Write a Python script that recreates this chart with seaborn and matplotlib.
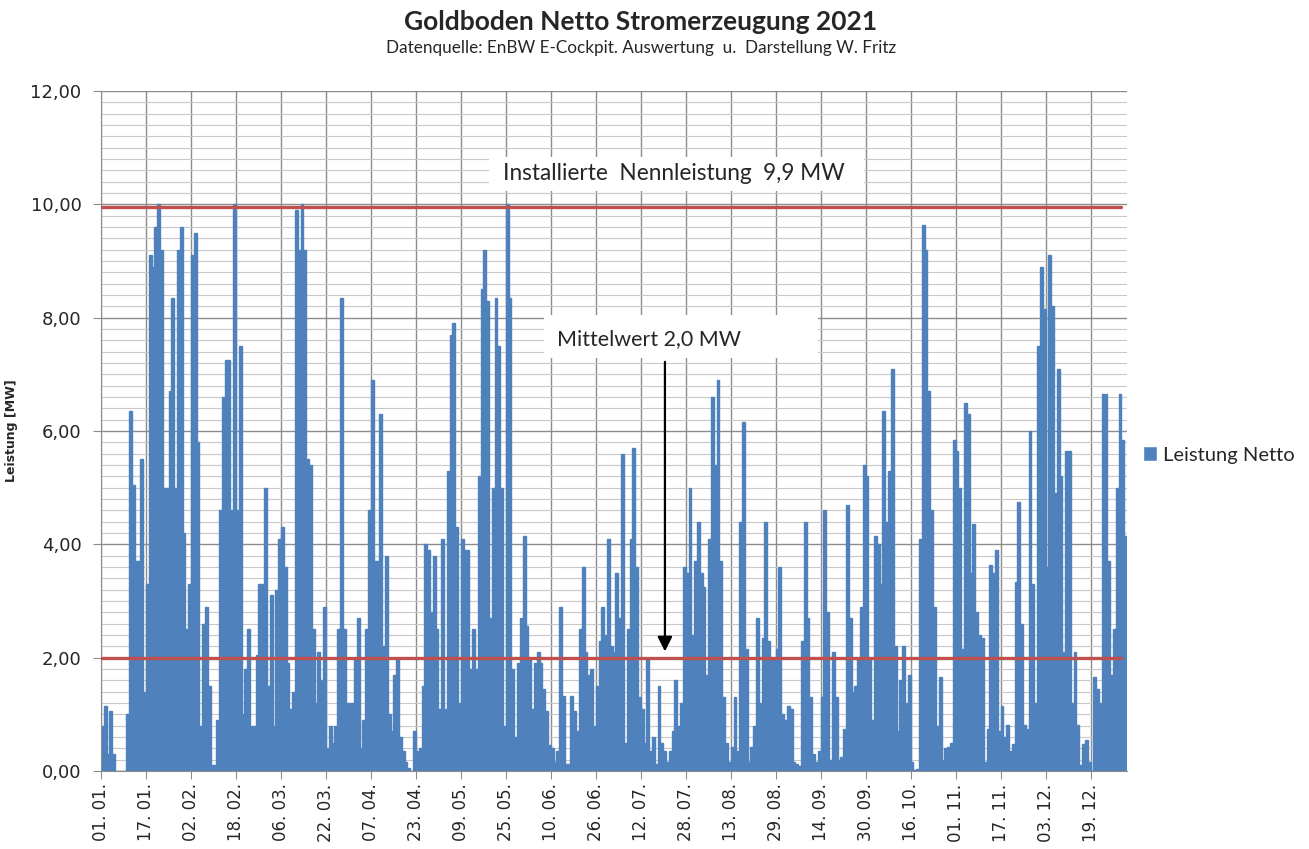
import numpy as np
import pandas as pd
import seaborn as sns
import matplotlib.pyplot as plt
from matplotlib.patches import Rectangle, Patch
from matplotlib.ticker import MultipleLocator

# Tageshöchstwerte Leistung Netto [MW], 01.01. - 31.12.2021
leistung = [
    0.8, 1.15, 0.3, 1.05, 0.3, 0, 0, 0, 0, 1.0, 6.35, 5.05, 3.7, 3.7, 5.5, 1.4,
    3.3, 9.1, 8.9, 9.6, 10.0, 9.2, 5.0, 5.0, 6.7, 8.35, 5.0, 9.2, 9.6, 4.2, 2.5, 3.3,
    9.1, 9.5, 5.8, 0.8, 2.6, 2.9, 1.5, 0.1, 0.1, 0.9, 4.6, 6.6, 7.25, 7.25, 4.6, 10.0,
    4.6, 7.5, 1.0, 1.8, 2.5, 0.8, 0.8, 2.05, 3.3, 3.3, 5.0, 1.5, 3.1, 0.8, 3.2, 4.1,
    4.3, 3.6, 1.9, 1.1, 1.4, 9.9, 9.2, 10.0, 9.2, 5.5, 5.4, 2.5, 1.2, 2.1, 1.6, 2.9,
    0.4, 0.8, 0.5, 0.8, 2.5, 8.35, 2.5, 1.2, 1.2, 1.2, 2.0, 2.7, 0.4, 0.9, 2.5, 4.6,
    6.9, 3.7, 3.7, 6.3, 2.2, 3.8, 1.0, 0.7, 1.7, 2.0, 0.6, 0.35, 0.15, 0.05, 0.0, 0.7,
    0.35, 0.4, 1.5, 4.0, 3.9, 2.8, 3.8, 2.5, 1.1, 4.1, 1.1, 5.3, 7.7, 7.9, 4.3, 1.2,
    4.1, 3.9, 3.9, 1.8, 2.5, 1.8, 5.2, 8.5, 9.2, 8.3, 2.7, 5.0, 8.35, 7.5, 5.0, 0.8,
    10.0, 8.35, 1.8, 0.6, 1.9, 2.7, 4.15, 2.55, 2.0, 1.1, 1.9, 2.1, 1.9, 1.45, 1.06, 0.45,
    0.4, 0.16, 0.35, 2.9, 1.33, 0.12, 0.12, 1.33, 1.06, 0.7, 2.5, 3.6, 2.1, 1.7, 1.8, 0.8,
    1.5, 2.3, 2.9, 2.4, 4.1, 2.2, 2.1, 3.5, 2.7, 5.6, 0.5, 2.5, 4.1, 5.7, 3.6, 1.3,
    1.1, 0.5, 2.0, 0.35, 0.6, 0.12, 1.5, 0.5, 0.35, 0.16, 0.35, 0.7, 1.6, 0.8, 1.2, 3.6,
    3.5, 5.0, 2.4, 3.7, 4.4, 3.5, 3.25, 1.7, 4.1, 6.6, 5.4, 6.9, 3.7, 1.3, 0.5, 0.16,
    0.43, 1.3, 0.35, 4.4, 6.15, 2.15, 0.16, 0.43, 0.8, 2.7, 1.2, 2.35, 4.4, 2.3, 2.0, 2.0,
    2.15, 3.6, 1.0, 0.9, 1.15, 1.1, 0.16, 0.12, 0.08, 2.3, 4.4, 2.7, 1.3, 0.3, 0.16, 0.35,
    1.3, 4.6, 2.8, 0.2, 2.1, 1.3, 0.2, 0.24, 0.74, 4.7, 2.7, 1.4, 1.5, 2.0, 2.9, 5.4,
    5.2, 2.0, 0.9, 4.15, 4.0, 3.3, 6.35, 4.4, 5.3, 7.1, 2.2, 0.7, 1.6, 2.2, 1.2, 1.7,
    0.16, 0.02, 0.04, 4.1, 9.64, 9.2, 6.7, 4.6, 2.9, 0.8, 1.65, 0.2, 0.4, 0.43, 0.5, 5.84,
    5.64, 5.0, 2.15, 6.5, 6.3, 3.5, 4.35, 2.8, 2.4, 2.35, 0.16, 0.74, 3.64, 3.5, 3.9, 0.7,
    1.14, 0.6, 0.82, 0.35, 0.47, 3.33, 4.74, 2.6, 0.82, 0.74, 6.0, 3.3, 1.2, 7.5, 8.9, 8.15,
    3.6, 9.1, 8.2, 4.9, 7.1, 5.2, 2.1, 5.64, 5.64, 1.2, 2.1, 0.82, 0.1, 0.47, 0.55, 0.16,
    0.0, 1.65, 1.45, 1.2, 6.66, 6.66, 3.7, 1.7, 2.5, 5.0, 6.66, 5.84, 4.15,
]

datum_labels = ["01. 01.", "17. 01.", "02. 02.", "18. 02.", "06. 03.", "22. 03.",
                "07. 04.", "23. 04.", "09. 05.", "25. 05.", "10. 06.", "26. 06.",
                "12. 07.", "28. 07.", "13. 08.", "29. 08.", "14. 09.", "30. 09.",
                "16. 10.", "01. 11.", "17. 11.", "03. 12.", "19. 12."]

nennleistung = 9.95   # Linie "Installierte Nennleistung 9,9 MW"
mittelwert = 2.0

df = pd.DataFrame({"tag": np.arange(len(leistung)), "leistung": leistung})

sns.set_style("white")
plt.rcParams['font.family'] = ['DejaVu Sans']
calibri = ['Lato', 'DejaVu Sans']

blau = "#4F81BD"
rot = "#C0504D"
grau = "#8C8C8C"

fig = plt.figure(figsize=(13.09, 8.49), dpi=100)
ax = fig.add_axes([0.0772, 0.0919, 0.7838, 0.8009])

sns.barplot(data=df, x="tag", y="leistung", color=blau, saturation=1, width=1.0,
            errorbar=None, linewidth=1.0, edgecolor=blau, ax=ax, zorder=2)

ax.set_xlim(-0.5, len(leistung) - 0.5)
ax.set_ylim(0, 12)

# Gitter
ax.set_axisbelow(True)
ax.yaxis.set_major_locator(MultipleLocator(2))
ax.yaxis.set_minor_locator(MultipleLocator(0.2))
ax.set_yticklabels([f"{v:.2f}".replace(".", ",") for v in ax.get_yticks()])
ax.set_xticks(np.arange(0, len(leistung), 16) - 0.5)
ax.set_xticklabels(datum_labels, rotation=90)
ax.grid(True, which='major', axis='both', color=grau, lw=1)
ax.grid(True, which='minor', axis='y', color='#C8C8C8', lw=0.8)

ax.tick_params(axis='both', which='major', length=6, color=grau, labelsize=13,
               bottom=True, left=True, direction='out')
ax.tick_params(axis='x', pad=3, labelsize=12)
ax.tick_params(axis='y', pad=8)
ax.tick_params(which='minor', length=0)

sns.despine(ax=ax, top=True, right=True)
for s in ['left', 'bottom']:
    ax.spines[s].set_color(grau)

ax.set_xlabel("")
ax.set_ylabel("Leistung [MW]", fontweight='bold', fontsize=9)
ax.yaxis.set_label_coords(-0.081, 0.5)

# Referenzlinien
ax.axhline(nennleistung, xmin=0, xmax=0.994, color=rot, lw=2.4, zorder=3)
ax.axhline(mittelwert, xmin=0, xmax=0.994, color=rot, lw=2.4, zorder=3)

# Beschriftungen
ax.add_patch(Rectangle((137.6, 10.23), 133.4, 0.6, facecolor='white', edgecolor='none', zorder=4))
ax.text(142.4, 10.55, "Installierte  Nennleistung  9,9 MW", fontsize=16.3, family=calibri,
        va='center', ha='left', zorder=5)
ax.add_patch(Rectangle((157.0, 7.29), 97.6, 0.76, facecolor='white', edgecolor='none', zorder=4))
ax.text(161.6, 7.63, "Mittelwert 2,0 MW", fontsize=15.5, family=calibri,
        va='center', ha='left', zorder=5)
ax.annotate("", xy=(200.1, 2.06), xytext=(200.1, 7.27),
            arrowprops=dict(arrowstyle='-|>', color='black', lw=1.6, mutation_scale=22),
            zorder=5)

fig.text(641 / 1309, 1 - 22 / 849, "Goldboden Netto Stromerzeugung 2021", ha='center',
         va='center', fontsize=19, fontweight='bold', family=calibri)
fig.text(641 / 1309, 1 - 48 / 849,
         "Datenquelle: EnBW E-Cockpit. Auswertung  u.  Darstellung W. Fritz",
         ha='center', va='center', fontsize=12.3, family=calibri)

fig.legend([Patch(facecolor=blau)], ["Leistung Netto"], loc='center left',
           bbox_to_anchor=(1125 / 1309, 1 - 455 / 849), frameon=False,
           handlelength=0.7, handleheight=0.7, handletextpad=0.3,
           prop=dict(family=calibri, size=14.5))

fig.savefig("out.png", dpi=100)
